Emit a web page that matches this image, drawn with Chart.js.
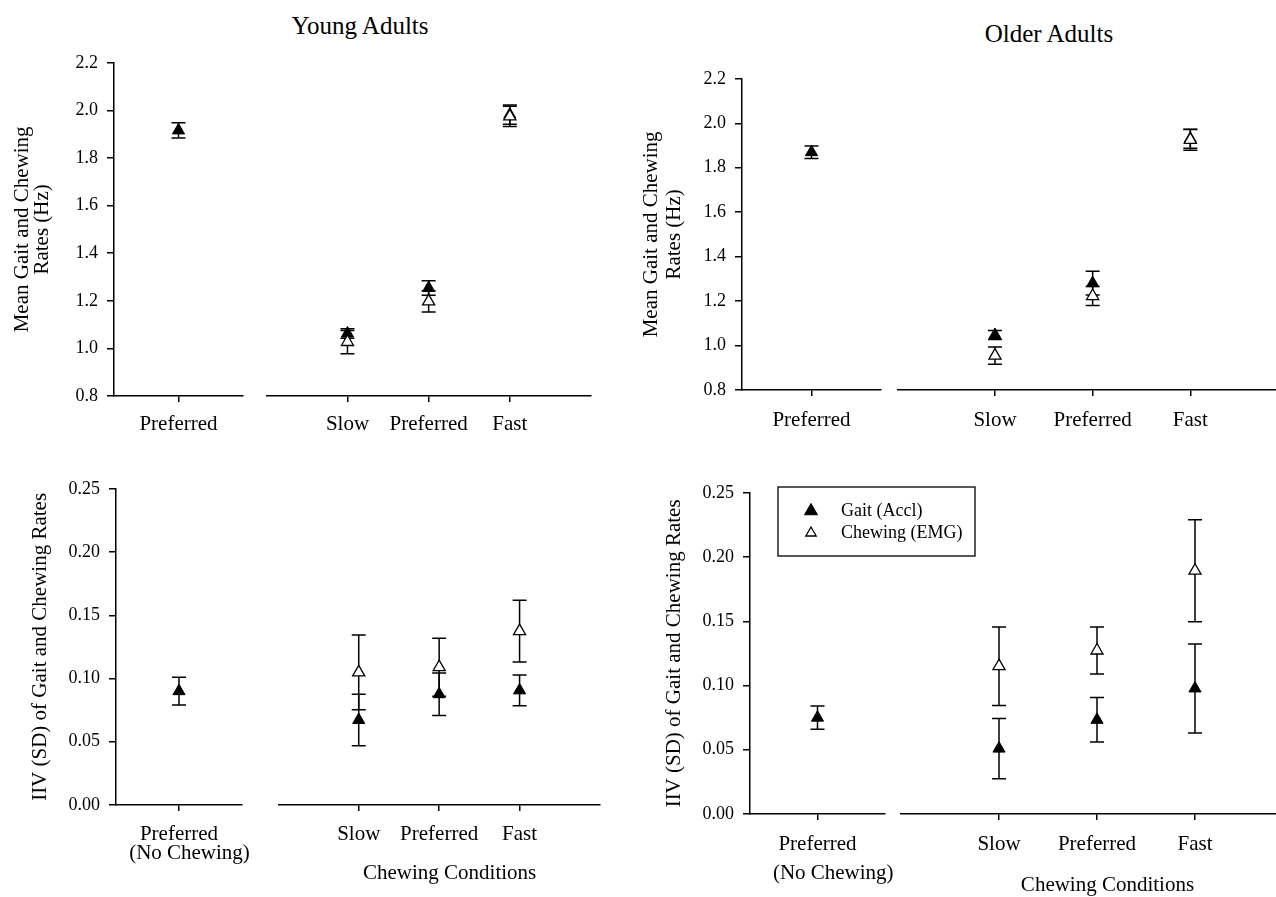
<!DOCTYPE html>
<html>
<head>
<meta charset="utf-8">
<title>Gait and chewing rates</title>
<script src="https://cdn.jsdelivr.net/npm/chart.js@4.4.1/dist/chart.umd.min.js"></script>
<style>
  html, body { margin: 0; padding: 0; background: #fff; }
  #page { position: relative; width: 1276px; height: 897px; overflow: hidden; background: #fff; }
  #page canvas { position: absolute; }
  .panel-title {
    position: absolute; width: 400px; text-align: center; color: #000;
    font: 25px 'Liberation Serif', 'Times New Roman', serif; line-height: 25px;
  }
</style>
</head>
<body>
<div id="page">
  <div class="panel-title" style="left:160px; top:13px">Young Adults</div>
  <div class="panel-title" style="left:849px; top:21px">Older Adults</div>
</div>
<script>
// ============================================
// DATA
// ============================================

const chewConds = ['Slow', 'Preferred', 'Fast'];
const noChewLabel = ['Preferred'];
const noChewLabelYoung = [['Preferred', '    (No Chewing)']];
const noChewLabelOlder = [['Preferred', '      (No Chewing)']];
const xTitle = '    Chewing Conditions';
const seriesNames = ['Gait (Accl)', 'Chewing (EMG)'];

// mean gait and chewing rates (Hz)
const youngRateNoChew = [1.916];
const youngRateNoChewErr = [0.032];
const youngRateGait = [1.058, 1.246, 1.962];
const youngRateGaitErr = [0.020, 0.030, 0.040];
const youngRateChew = [1.023, 1.191, 1.955];
const youngRateChewErr = [0.048, 0.044, 0.042];

const olderRateNoChew = [1.870];
const olderRateNoChewErr = [0.028];
const olderRateGait = [1.043, 1.272, 1.910];
const olderRateGaitErr = [0.020, 0.052, 0.042];
const olderRateChew = [0.952, 1.215, 1.905];
const olderRateChewErr = [0.038, 0.042, 0.046];

// IIV (SD) of gait and chewing rates
const youngIivNoChew = [0.090];
const youngIivNoChewErr = [0.011];
const youngIivGait = [0.066, 0.086, 0.089];
const youngIivGaitErr = [0.020, 0.0165, 0.012];
const youngIivChew = [0.103, 0.107, 0.135];
const youngIivChewErr = [0.029, 0.0225, 0.024];

const olderIivNoChew = [0.075];
const olderIivNoChewErr = [0.009];
const olderIivGait = [0.050, 0.072, 0.096];
const olderIivGaitErr = [0.023, 0.017, 0.034];
const olderIivChew = [0.113, 0.125, 0.186];
const olderIivChewErr = [0.030, 0.018, 0.039];

const rateTitle = ['Mean Gait and Chewing', 'Rates (Hz)'];
const iivTitle = 'IIV (SD) of Gait and Chewing Rates';

// ============================================
// HELPERS
// ============================================

const FONT = "'Liberation Serif', 'Times New Roman', serif";
Chart.defaults.font.family = FONT;
Chart.defaults.color = '#000';

const page = document.getElementById('page');
const LEFT_PAD_RIGHT = 60;   // room for the wide "(No Chewing)" label

function addCanvas(x, y, w, h) {
    const c = document.createElement('canvas');
    c.width = w;
    c.height = h;
    c.style.left = x + 'px';
    c.style.top = y + 'px';
    c.style.width = w + 'px';
    c.style.height = h + 'px';
    page.appendChild(c);
    return c;
}

function pointsFrom(values, firstX) {
    return values.map((v, i) => ({ x: firstX + i, y: v }));
}

function gaitSet(values, errs, firstX) {
    return {
        label: seriesNames[0],
        data: pointsFrom(values, firstX),
        errors: errs,
        pointStyle: 'triangle',
        pointRadius: 7,
        backgroundColor: '#000',
        borderColor: '#000',
        borderWidth: 1,
        order: 2
    };
}

function chewSet(values, errs, firstX) {
    return {
        label: seriesNames[1],
        data: pointsFrom(values, firstX),
        errors: errs,
        pointStyle: 'triangle',
        pointRadius: 7,
        backgroundColor: '#fff',
        borderColor: '#000',
        borderWidth: 1.3,
        order: 1
    };
}

// vertical error bars with caps, drawn under the markers
const errorBars = {
    id: 'errorBars',
    beforeDatasetsDraw(chart) {
        const { ctx, scales: { x, y } } = chart;
        ctx.save();
        ctx.strokeStyle = '#000';
        ctx.lineWidth = 1.5;
        chart.data.datasets.forEach(ds => {
            ds.data.forEach((p, i) => {
                const e = ds.errors[i];
                const px = x.getPixelForValue(p.x);
                const top = y.getPixelForValue(p.y + e);
                const bot = y.getPixelForValue(p.y - e);
                ctx.beginPath();
                ctx.moveTo(px, top); ctx.lineTo(px, bot);
                ctx.moveTo(px - 7, top); ctx.lineTo(px + 7, top);
                ctx.moveTo(px - 7, bot); ctx.lineTo(px + 7, bot);
                ctx.stroke();
            });
        });
        ctx.restore();
    }
};

// boxed legend in the upper left of the plot
const boxLegend = {
    id: 'boxLegend',
    afterDraw(chart, args, opts) {
        const { ctx, chartArea } = chart;
        const left = chartArea.left - opts.offsetX;
        const top = chartArea.top;
        ctx.save();
        ctx.fillStyle = '#fff';
        ctx.fillRect(left, top, 197, 69);
        ctx.strokeStyle = '#222';
        ctx.lineWidth = 1.5;
        ctx.strokeRect(left, top, 197, 69);
        ctx.font = '18px ' + FONT;
        ctx.textBaseline = 'middle';
        chart.data.datasets.forEach((ds, i) => {
            const cy = top + 24 + i * 22;
            ctx.fillStyle = ds.backgroundColor;
            ctx.strokeStyle = ds.borderColor;
            ctx.lineWidth = ds.borderWidth;
            Chart.helpers.drawPoint(ctx, {
                pointStyle: ds.pointStyle,
                radius: opts.radii[i],
                rotation: 0,
                borderWidth: ds.borderWidth
            }, left + 33, cy);
            ctx.fillStyle = '#000';
            ctx.fillText(ds.label, left + 63, cy);
        });
        ctx.restore();
    }
};

function xScale(min, max, values, labels, h, tickFont, tickPad, title) {
    return {
        type: 'linear',
        min: min,
        max: max,
        afterBuildTicks: s => { s.ticks = values.map(v => ({ value: v })); },
        afterFit: s => { s.height = h; },
        ticks: {
            autoSkip: false,
            maxRotation: 0,
            padding: tickPad,
            font: tickFont,
            callback: v => labels[values.indexOf(v)]
        },
        grid: { drawOnChartArea: false, tickLength: 6, color: '#000', lineWidth: 1.5 },
        border: { color: '#000', width: 1.5 },
        title: title
            ? { display: true, text: title, font: { size: 21 }, padding: { top: 0, bottom: 0 } }
            : { display: false }
    };
}

function makePanel(p) {
    const ySide = {
        min: p.yMin,
        max: p.yMax,
        afterFit: s => { s.width = p.yWidth; },
        ticks: { stepSize: p.yStep, font: { size: 18 }, padding: 9, callback: v => v.toFixed(p.yDec) },
        grid: { drawOnChartArea: false, tickLength: 7, color: '#000', lineWidth: 1.5 },
        border: { color: '#000', width: 1.5 },
        title: {
            display: true,
            text: p.yTitle,
            font: { size: 21, lineHeight: p.yTitleLH },
            padding: { top: p.yTitlePad, bottom: 0 }
        }
    };

    // left part: preferred walking without chewing
    new Chart(addCanvas(p.leftX, p.top, p.leftPlotRight + LEFT_PAD_RIGHT - p.leftX, p.height), {
        type: 'scatter',
        data: { datasets: [gaitSet(p.noChew, p.noChewErr, 0.5)] },
        options: {
            responsive: false,
            animation: false,
            devicePixelRatio: 1,
            layout: { padding: { top: 14, right: LEFT_PAD_RIGHT, bottom: 0, left: 0 } },
            plugins: { legend: { display: false }, tooltip: { enabled: false } },
            scales: {
                x: xScale(0, 1, [0.5], p.noChewLabels, p.xH, p.leftTickFont, p.leftTickPad, null),
                y: ySide
            }
        },
        plugins: [errorBars]
    });

    // right part: the three chewing conditions
    const rightPlugins = [errorBars];
    if (p.legend) rightPlugins.push(boxLegend);
    new Chart(addCanvas(p.rightX, p.top, p.rightW, p.height), {
        type: 'scatter',
        data: {
            datasets: [gaitSet(p.gait, p.gaitErr, 1), chewSet(p.chew, p.chewErr, 1)]
        },
        options: {
            responsive: false,
            animation: false,
            devicePixelRatio: 1,
            layout: { padding: { top: 14, right: 20, bottom: 0, left: p.rightPadLeft } },
            plugins: {
                legend: { display: false },
                tooltip: { enabled: false },
                boxLegend: { offsetX: 123, radii: [7.5, 6] }
            },
            scales: {
                x: xScale(0, 4, [1, 2, 3], chewConds, p.xH, { size: 21 }, p.rightTickPad, p.xTitle),
                y: { display: false, min: p.yMin, max: p.yMax }
            }
        },
        plugins: rightPlugins
    });
}

// ============================================
// PANELS
// ============================================

makePanel({
    top: 43, height: 403, xH: 50,
    leftX: 0, leftPlotRight: 243, yWidth: 114,
    rightX: 258, rightW: 353, rightPadLeft: 0,
    yMin: 0.8, yMax: 2.2, yStep: 0.2, yDec: 1,
    yTitle: rateTitle, yTitleLH: 0.976, yTitlePad: 12,
    noChewLabels: noChewLabel, leftTickFont: { size: 21 }, leftTickPad: 10, rightTickPad: 10,
    xTitle: null,
    noChew: youngRateNoChew, noChewErr: youngRateNoChewErr,
    gait: youngRateGait, gaitErr: youngRateGaitErr,
    chew: youngRateChew, chewErr: youngRateChewErr
});

makePanel({
    top: 59, height: 381, xH: 50,
    leftX: 630, leftPlotRight: 881, yWidth: 112,
    rightX: 889, rightW: 419, rightPadLeft: 0,
    yMin: 0.8, yMax: 2.2, yStep: 0.2, yDec: 1,
    yTitle: rateTitle, yTitleLH: 1.11, yTitlePad: 10,
    noChewLabels: noChewLabel, leftTickFont: { size: 21 }, leftTickPad: 12, rightTickPad: 12,
    xTitle: null,
    noChew: olderRateNoChew, noChewErr: olderRateNoChewErr,
    gait: olderRateGait, gaitErr: olderRateGaitErr,
    chew: olderRateChew, chewErr: olderRateChewErr
});

makePanel({
    top: 469, height: 417, xH: 81,
    leftX: 0, leftPlotRight: 242, yWidth: 116,
    rightX: 270, rightW: 350, rightPadLeft: 0,
    yMin: 0, yMax: 0.25, yStep: 0.05, yDec: 2,
    yTitle: iivTitle, yTitleLH: 1.2, yTitlePad: 28,
    noChewLabels: noChewLabelYoung, leftTickFont: { size: 21, lineHeight: 0.905 }, leftTickPad: 14, rightTickPad: 11,
    xTitle: xTitle,
    noChew: youngIivNoChew, noChewErr: youngIivNoChewErr,
    gait: youngIivGait, gaitErr: youngIivGaitErr,
    chew: youngIivChew, chewErr: youngIivChewErr
});

makePanel({
    top: 473, height: 425, xH: 84,
    leftX: 640, leftPlotRight: 885, yWidth: 110,
    rightX: 770, rightW: 543, rightPadLeft: 131,
    yMin: 0, yMax: 0.25, yStep: 0.05, yDec: 2,
    yTitle: iivTitle, yTitleLH: 1.2, yTitlePad: 22,
    noChewLabels: noChewLabelOlder, leftTickFont: { size: 21, lineHeight: 1.38 }, leftTickPad: 10, rightTickPad: 12,
    xTitle: xTitle,
    legend: true,
    noChew: olderIivNoChew, noChewErr: olderIivNoChewErr,
    gait: olderIivGait, gaitErr: olderIivGaitErr,
    chew: olderIivChew, chewErr: olderIivChewErr
});
</script>
</body>
</html>
